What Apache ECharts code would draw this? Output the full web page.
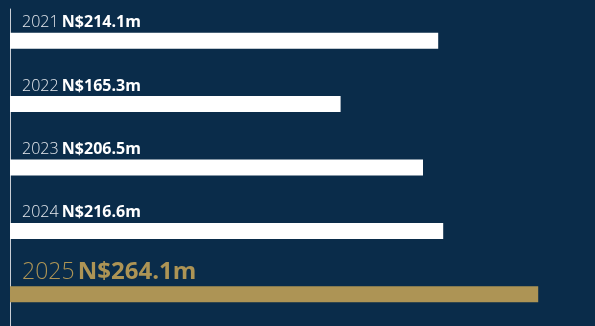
<!DOCTYPE html>
<html>
<head>
<meta charset="utf-8">
<script src="https://cdn.jsdelivr.net/npm/echarts@6/dist/echarts.min.js"></script>
<style>
  html, body { margin: 0; padding: 0; background: #0a2c4a; }
  #chart { width: 595px; height: 326px; }
</style>
</head>
<body>
<div id="chart"></div>
<script>
// Yearly totals, N$ millions
const years = ['2021', '2022', '2023', '2024', '2025'];
const values = [214.1, 165.3, 206.5, 216.6, 264.1];
const valueLabels = ['N$214.1m', 'N$165.3m', 'N$206.5m', 'N$216.6m', 'N$264.1m'];
const highlightYear = '2025';

const NAVY = '#0a2c4a';
const GOLD = '#ad9455';
const FONT = '"Open Sans", sans-serif';

const seriesData = years.map((y, i) => {
  const hi = y === highlightYear;
  return {
    value: values[i],
    itemStyle: { color: hi ? GOLD : '#ffffff' },
    label: {
      rich: {
        y: { fontFamily: FONT, fontWeight: 300, fontSize: hi ? 23 : 16, color: hi ? GOLD : '#e6e9ee' },
        v: { fontFamily: FONT, fontWeight: 700, fontSize: hi ? 24 : 16, color: hi ? GOLD : '#ffffff' }
      }
    }
  };
});

const chart = echarts.init(document.getElementById('chart'), null, { renderer: 'canvas' });
chart.setOption({
  backgroundColor: NAVY,
  animation: false,
  grid: { left: 10, top: 9, width: 540, height: 325 },
  xAxis: {
    type: 'value', min: 0, max: 270,
    show: false
  },
  yAxis: {
    type: 'category', data: years, inverse: true,
    offset: 1,
    axisLine: { show: true, lineStyle: { color: '#c9ced6', width: 1 } },
    axisTick: { show: false },
    axisLabel: { show: false }
  },
  series: [{
    type: 'bar',
    barWidth: 16,
    data: seriesData,
    label: {
      show: true,
      position: [12, -2],
      align: 'left',
      verticalAlign: 'bottom',
      formatter: p => '{y|' + years[p.dataIndex] + '} {v|' + valueLabels[p.dataIndex] + '}'
    }
  }]
});
</script>
</body>
</html>
